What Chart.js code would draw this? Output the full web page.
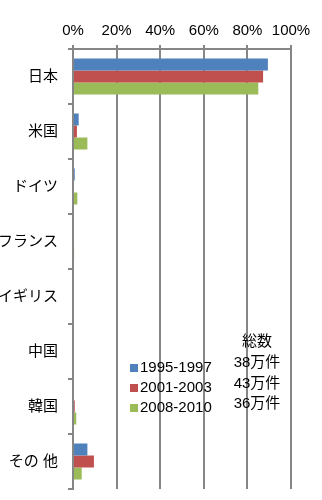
<!DOCTYPE html>
<html>
<head>
<meta charset="utf-8">
<script src="https://cdn.jsdelivr.net/npm/chart.js@4.4.1/dist/chart.umd.min.js"></script>
<style>
  html, body { margin: 0; padding: 0; background: #fff; }
  #wrap { width: 322px; height: 500px; position: relative; }
</style>
</head>
<body>
<div id="wrap"><canvas id="chart"></canvas></div>
<script>
// data (share of applications, %)
const categories = ['日本', '米国', 'ドイツ', 'フランス', 'イギリス', '中国', '韓国', 'その 他'];
const seriesNames = ['1995-1997', '2001-2003', '2008-2010'];
const period1 = [89.4, 2.6, 0.8, 0, 0, 0, 0, 6.6];
const period2 = [87.2, 1.8, 0, 0, 0, 0, 0.8, 9.6];
const period3 = [85.0, 6.6, 2.0, 0.5, 0, 0, 1.5, 4.0];
const totalsTitle = '総数';
const totals = ['38万件', '43万件', '36万件'];
const xTicks = [0, 20, 40, 60, 80, 100];

const colors = ['#4F81BD', '#C0504D', '#9BBB59'];
const FONT = "'Liberation Sans', 'Noto Sans CJK JP', sans-serif";
const gridGray = '#868686';

// legend + totals drawn inside the plot, like the original
const insideLegend = {
  id: 'insideLegend',
  afterDraw(chart) {
    const ctx = chart.ctx;
    ctx.save();
    ctx.font = '15px ' + FONT;
    ctx.fillStyle = '#000';
    ctx.textBaseline = 'middle';
    seriesNames.forEach((name, i) => {
      const y = 368 + i * 20;
      ctx.fillStyle = colors[i];
      ctx.fillRect(130, y - 4, 8, 8);
      ctx.fillStyle = '#000';
      ctx.textAlign = 'left';
      ctx.fillText(name, 140, y);
    });
    ctx.textAlign = 'center';
    ctx.fillText(totalsTitle, 257, 342);
    totals.forEach((t, i) => {
      ctx.fillText(t, 257, 363 + i * 20.5);
    });
    ctx.restore();
  }
};

new Chart(document.getElementById('chart'), {
  type: 'bar',
  data: {
    labels: categories,
    datasets: [period1, period2, period3].map((d, i) => ({
      label: seriesNames[i],
      data: d,
      backgroundColor: colors[i],
      borderWidth: 0,
      categoryPercentage: 0.655,
      barPercentage: 1
    }))
  },
  options: {
    indexAxis: 'y',
    responsive: true,
    maintainAspectRatio: false,
    animation: false,
    layout: { padding: { left: 0, right: 31, top: 0, bottom: 11 } },
    plugins: {
      legend: { display: false },
      tooltip: { enabled: false }
    },
    scales: {
      x: {
        position: 'top',
        min: 0,
        max: 100,
        afterBuildTicks: (s) => { s.ticks = xTicks.map(v => ({ value: v })); },
        afterFit: (s) => { s.height = 49; },
        ticks: {
          callback: (v) => v + '%',
          color: '#000',
          font: { family: FONT, size: 15 },
          padding: 5,
          maxRotation: 0
        },
        grid: { color: gridGray, lineWidth: 2, tickLength: 4 },
        border: { display: true, color: gridGray, width: 2 }
      },
      y: {
        afterFit: (s) => {
          s.width = 73;
          s.paddingTop = 0;
          s.paddingBottom = 0;
        },
        ticks: {
          color: '#000',
          font: { family: FONT, size: 15 },
          padding: 10
        },
        grid: { drawOnChartArea: false, color: gridGray, lineWidth: 2, tickLength: 5 },
        border: { display: true, color: gridGray, width: 2 }
      }
    }
  },
  plugins: [insideLegend]
});
</script>
</body>
</html>
